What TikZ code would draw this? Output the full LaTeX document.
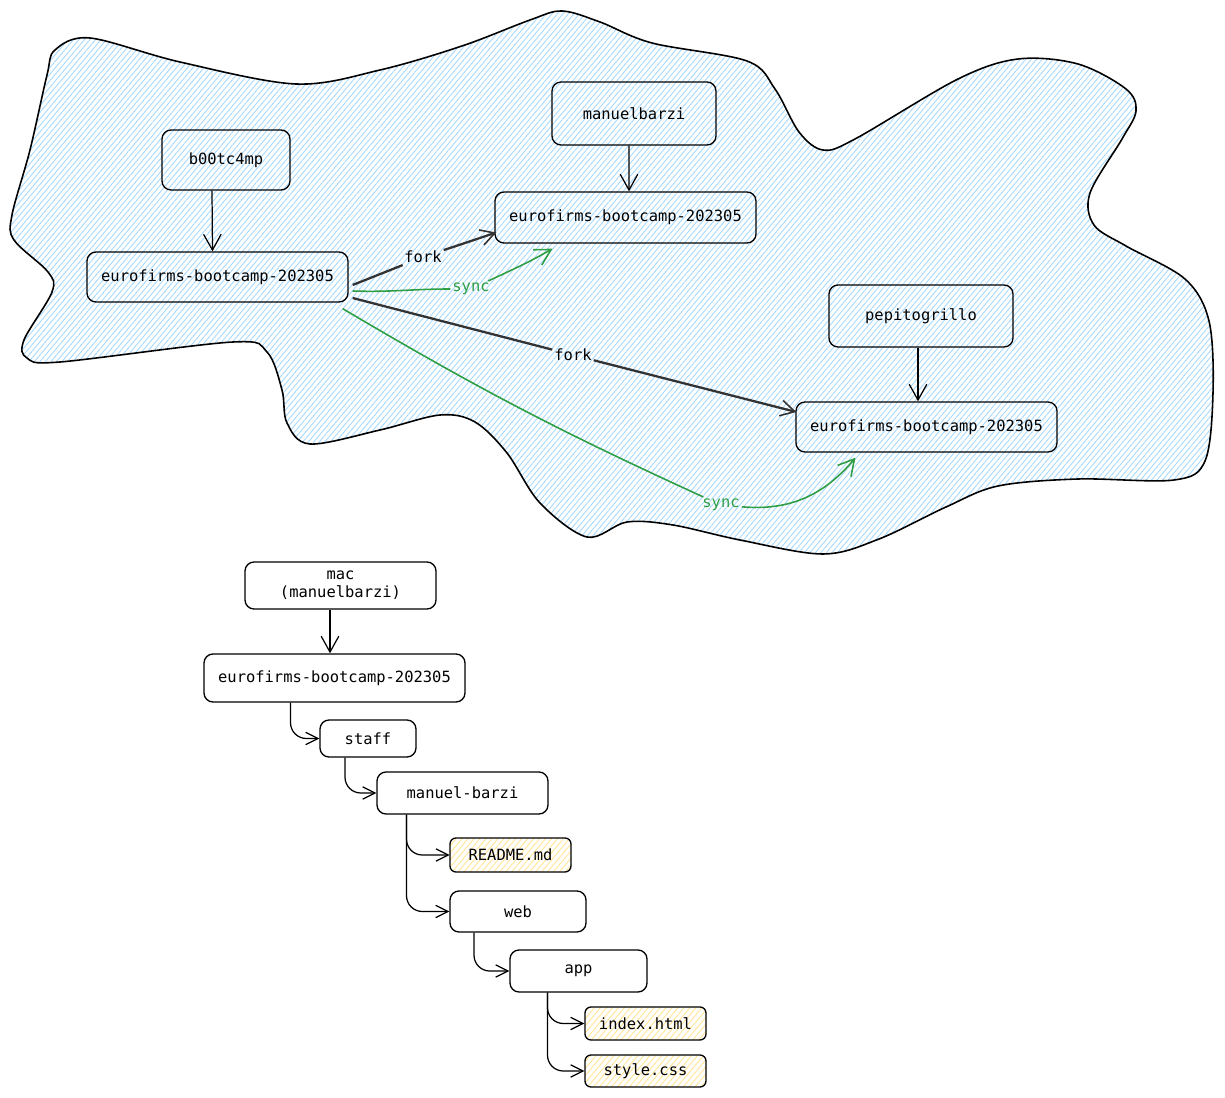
\documentclass[tikz,border=0pt]{standalone}
\usepackage{fontspec}
\setmonofont{DejaVu Sans Mono}
\usetikzlibrary{arrows.meta,patterns.meta}
\definecolor{hatchblue}{HTML}{A5D8FF}
\definecolor{hatchyellow}{HTML}{FFE38A}
\definecolor{syncgreen}{HTML}{2F9E44}
\newdimen\px \px=0.02cm
\tikzset{
  repo/.style={ % image of a repository or folder box
    draw, rectangle, rounded corners=9\px, line width=0.75pt,
    inner sep=0pt, text=black, align=center,
    font=\ttfamily\fontsize{8.8}{10.2}\selectfont
  },
  file/.style={ % image of a plain file
    repo, rounded corners=6\px,
    preaction={fill=white},
    pattern={Lines[angle=50,distance=2.6pt,line width=0.45pt]},
    pattern color=hatchyellow
  },
  wh/.style 2 args={minimum width=#1\px, minimum height=#2\px},
  lbl/.style={inner sep=1pt, font=\ttfamily\fontsize{8.8}{10.2}\selectfont},
  cloud/.style={ % the hatched area round the remote repos
    draw, line width=0.9pt,
    pattern={Lines[angle=50,distance=2.4pt,line width=0.5pt]},
    pattern color=hatchblue
  },
  arr/.style={-{Straight Barb[length=9pt,width=10pt]}, line width=0.7pt},
  fork/.style={line width=1.3pt, black!80},
  forktip/.style={-{Straight Barb[length=8pt,width=9pt,line width=0.9pt]}},
  sync/.style={line width=0.9pt, syncgreen},
  synctip/.style={-{Straight Barb[length=9pt,width=10pt]}},
  treearr/.style={-{Straight Barb[length=7pt,width=7pt]}, line width=0.7pt, rounded corners=9pt}
}
\begin{document}
\begin{tikzpicture}[x=0.02cm, y=-0.02cm]
  \useasboundingbox (0,0) rectangle (1225,1098);

  \path[cloud] plot[smooth cycle, tension=0.55] coordinates {
    (55,50) (90,38) (180,62) (296,84) (380,70) (462,46) (530,20) (562,11)
    (600,22) (652,43) (747,61) (775,89) (799,132) (823,150) (855,139)
    (958,79) (1018,59) (1078,64) (1126,89) (1136,111) (1122,139) (1090,193)
    (1094,225) (1126,246) (1185,279) (1209,321) (1213,393) (1205,461)
    (1174,480) (1078,479) (998,486) (946,507) (879,539) (823,554) (740,540)
    (673,525) (627,522) (587,537) (540,503) (507,453) (475,422) (440,415)
    (380,430) (310,444) (287,423) (282,390) (267,352) (233,342) (60,362)
    (27,358) (24,340) (52,292) (48,272) (14,240) (12,215) (30,150) (47,75)
  };

  \node[repo, wh={128}{60}] (boot) at (226,160) {b00tc4mp};
  \node[repo, wh={261}{50}] (bootrepo) at (217.5,277) {eurofirms-bootcamp-202305};
  \node[repo, wh={164}{63}] (manu) at (634,113.5) {manuelbarzi};
  \node[repo, wh={261}{51}] (manurepo) at (625.5,217.5) {eurofirms-bootcamp-202305};
  \node[repo, wh={184}{62}] (pepi) at (921,316) {pepitogrillo};
  \node[repo, wh={261}{50}] (pepirepo) at (926.5,427) {eurofirms-bootcamp-202305};

  \node[lbl] (fork_a) at (423,257) {fork};
  \node[lbl] (fork_b) at (573,355) {fork};
  \node[lbl, text=syncgreen] (sync_a) at (471,289) {sync};
  \node[lbl, text=syncgreen] (sync_b) at (721,505) {sync};

  \draw[arr] ([xshift=-14\px]boot.south) -- ([xshift=-5\px]bootrepo.north);
  \draw[arr] ([xshift=-5\px]manu.south) -- ([xshift=3.5\px]manurepo.north);
  \draw[arr] ([xshift=-3\px]pepi.south) -- ([xshift=-8.5\px]pepirepo.north);

  \draw[fork] ([xshift=4\px,yshift=-8\px]bootrepo.east) -- (fork_a);
  \draw[fork, forktip] (fork_a) -- ([xshift=2\px,yshift=-15\px]manurepo.west);
  \draw[fork] ([xshift=4\px,yshift=-21\px]bootrepo.east) -- (fork_b);
  \draw[fork, forktip] (fork_b) -- ([xshift=1\px,yshift=15\px]pepirepo.west);

  \draw[sync] ([xshift=4\px,yshift=-14\px]bootrepo.east) to[out=-2, in=180] (sync_a);
  \draw[sync, synctip] (sync_a) to[out=25, in=-150] ([xshift=-73\px,yshift=-5\px]manurepo.south);
  \draw[sync] ([xshift=-6\px,yshift=-6\px]bootrepo.south east) to[bend right=3] (sync_b);
  \draw[sync, synctip] (sync_b) to[out=-5, in=-130] ([xshift=-71\px,yshift=-5\px]pepirepo.south);

  \node[repo, wh={191}{47}] (mac) at (340.5,585.5) {mac\\(manuelbarzi)};
  \node[repo, wh={261}{48}] (local) at (334.5,678) {eurofirms-bootcamp-202305};
  \node[repo, wh={96}{37}] (staff) at (368,738.5) {staff};
  \node[repo, wh={171}{42}] (me) at (462.5,793) {manuel-barzi};
  \node[file, wh={121}{34}] (readme) at (510.5,855) {README.md};
  \node[repo, wh={136}{41}] (web) at (518,911.5) {web};
  \node[repo, wh={137}{42}] (app) at (578.5,971) {app};
  \node[file, wh={121}{33}] (index) at (645.5,1023.5) {index.html};
  \node[file, wh={121}{32}] (style) at (645.5,1071) {style.css};

  \draw[arr] ([xshift=-10.5\px]mac.south) -- ([xshift=-4.5\px]local.north);
  \draw[treearr] ([xshift=-44\px]local.south) |- (staff.west);
  \draw[treearr] ([xshift=-23\px]staff.south) |- (me.west);
  \draw[treearr] ([xshift=-56\px]me.south) |- (readme.west);
  \draw[treearr] ([xshift=-56\px]me.south) |- (web.west);
  \draw[treearr] ([xshift=-44\px]web.south) |- (app.west);
  \draw[treearr] ([xshift=-31\px]app.south) |- (index.west);
  \draw[treearr] ([xshift=-31\px]app.south) |- (style.west);
\end{tikzpicture}
\end{document}
